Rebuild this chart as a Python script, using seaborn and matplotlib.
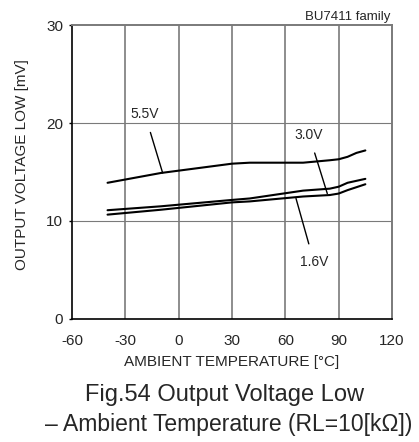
import pandas as pd
import numpy as np
import matplotlib
matplotlib.use("Agg")
import matplotlib.pyplot as plt
import seaborn as sns

# values
temps = [-40, -10, 30, 40, 70, 85, 90, 95, 100, 105]
v55 = [13.9, 14.9, 15.85, 15.95, 15.95, 16.2, 16.3, 16.55, 16.95, 17.2]
v30 = [11.1, 11.5, 12.15, 12.3, 13.1, 13.3, 13.5, 13.9, 14.1, 14.3]
v16 = [10.65, 11.15, 11.9, 12.0, 12.5, 12.65, 12.8, 13.15, 13.45, 13.75]
series = ["5.5V", "3.0V", "1.6V"]

xticks = [-60, -30, 0, 30, 60, 90, 120]
yticks = [0, 10, 20, 30]

sns.set_style("white")
plt.rcParams['font.family'] = ['Liberation Sans', 'DejaVu Sans']
plt.rcParams['axes.unicode_minus'] = False

df = pd.DataFrame({
    "temp": temps * 3,
    "vol": v55 + v30 + v16,
    "supply": np.repeat(series, len(temps)),
})

fig = plt.figure(figsize=(4.19, 4.42), dpi=100)
ax = fig.add_axes([0.1718, 0.2783, 0.7638, 0.6651])

# grid
for x in xticks[1:-1]:
    ax.axvline(x, color="#7a7a7a", lw=1.2, zorder=1)
for y in [10, 20]:
    ax.axhline(y, color="#7a7a7a", lw=0.8, zorder=1)

sns.lineplot(data=df, x="temp", y="vol", hue="supply", palette=["black"] * 3,
             legend=False, lw=1.5, ax=ax, zorder=3)

ax.set_xlim(-60, 120)
ax.set_ylim(0, 30)
ax.set_xticks(xticks)
ax.set_yticks(yticks)
ax.tick_params(axis="y", length=2.5, width=1, labelsize=11, pad=4, left=True, color="black")
ax.tick_params(axis="x", length=0, labelsize=11, pad=11)

for s in ["left", "bottom"]:
    ax.spines[s].set_color("black")
    ax.spines[s].set_linewidth(1.2)
for s in ["top", "right"]:
    ax.spines[s].set_color("#7a7a7a")
    ax.spines[s].set_linewidth(1.4)

ax.set_xlabel("AMBIENT TEMPERATURE [°C]", fontsize=11, labelpad=5)
ax.set_ylabel("OUTPUT VOLTAGE LOW [mV]", fontsize=11, labelpad=12)
ax.yaxis.label.set_y(0.524)

# curve labels with leader lines
ax.annotate("5.5V", xy=(-9, 14.9), xytext=(-19, 20.9), fontsize=10,
            ha="center", va="center",
            arrowprops=dict(arrowstyle="-", color="black", lw=1, shrinkA=6, shrinkB=0))
ax.annotate("3.0V", xy=(83.6, 12.8), xytext=(73.3, 18.8), fontsize=10,
            ha="center", va="center",
            arrowprops=dict(arrowstyle="-", color="black", lw=1, shrinkA=6, shrinkB=0))
ax.annotate("1.6V", xy=(66, 12.3), xytext=(76.1, 5.8), fontsize=10,
            ha="center", va="center",
            arrowprops=dict(arrowstyle="-", color="black", lw=1, shrinkA=6, shrinkB=0))

ax.text(0.995, 1.006, "BU7411 family", transform=ax.transAxes, ha="right", va="bottom",
        fontsize=9.5)

fig.text(0.535, 1 - 395 / 442, "Fig.54 Output Voltage Low", ha="center", va="center",
         fontsize=17)
fig.text(0.546, 1 - 424 / 442, "– Ambient Temperature (RL=10[kΩ])", ha="center",
         va="center", fontsize=16.5)

fig.savefig("out.png", dpi=100)
